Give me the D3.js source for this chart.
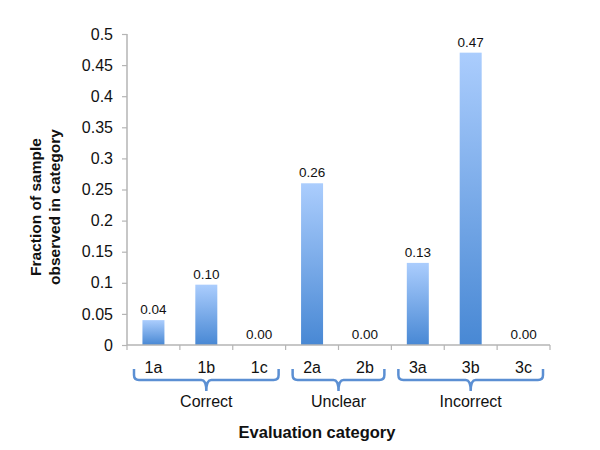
<!DOCTYPE html>
<html><head><meta charset="utf-8">
<script src="https://cdn.jsdelivr.net/npm/d3@7"></script>
<style>body{margin:0;background:#fff}svg{display:block;font-family:"Liberation Sans",Arial,sans-serif}</style>
</head><body>
<svg id="c" width="600" height="450"></svg>
<script>
const categories = ["1a","1b","1c","2a","2b","3a","3b","3c"];
const values = [0.04, 0.097, 0.0, 0.26, 0.0, 0.132, 0.47, 0.0];
const valueLabels = ["0.04","0.10","0.00","0.26","0.00","0.13","0.47","0.00"];
const groupNames = ["Correct","Unclear","Incorrect"];
const groupFirst = ["1a","2a","3a"];
const groupLast = ["1c","2b","3c"];
const yTicks = [0,0.05,0.1,0.15,0.2,0.25,0.3,0.35,0.4,0.45,0.5];
const yTickLabels = ["0","0.05","0.1","0.15","0.2","0.25","0.3","0.35","0.4","0.45","0.5"];

const svg = d3.select("#c");
const x = d3.scaleBand().domain(categories).range([127,550]).paddingInner(0.584).paddingOuter(0.292);
const y = d3.scaleLinear().domain([0,0.5]).range([345,34]);
const axisColor = "#b5b5b5";

const defs = svg.append("defs");
const g = defs.append("linearGradient").attr("id","bg").attr("x1",0).attr("y1",0).attr("x2",0).attr("y2",1);
g.append("stop").attr("offset","0%").attr("stop-color","#abcdfd");
g.append("stop").attr("offset","100%").attr("stop-color","#4888d4");

// bars
svg.selectAll("rect.bar").data(categories).join("rect").attr("class","bar")
  .attr("x",d=>x(d)).attr("width",x.bandwidth())
  .attr("y",(d,i)=>y(values[i])).attr("height",(d,i)=>y(0)-y(values[i]))
  .attr("fill","url(#bg)");

// value labels
svg.selectAll("text.val").data(categories).join("text").attr("class","val")
  .attr("x",d=>x(d)+x.bandwidth()/2).attr("y",(d,i)=>y(values[i])-6)
  .attr("text-anchor","middle").attr("font-size",13.5).attr("fill","#111")
  .text((d,i)=>valueLabels[i]);

// y axis
const yAxis = d3.axisLeft(y).tickValues(yTicks).tickFormat((d,i)=>yTickLabels[i]).tickSize(5).tickPadding(9);
const ya = svg.append("g").attr("transform","translate(127,0)").call(yAxis);
ya.select(".domain").attr("stroke",axisColor).attr("stroke-width",1.5).attr("d","M0,34V345");
ya.selectAll(".tick line").attr("stroke",axisColor).attr("stroke-width",1.2);
ya.selectAll(".tick text").attr("font-size",16).attr("fill","#111").attr("font-family","Liberation Sans, Arial, sans-serif");

// x axis
const bounds = categories.map(c=>x(c)-x.step()*x.paddingInner()/2).concat([550]);
const xa = svg.append("g");
xa.append("line").attr("x1",127).attr("x2",550).attr("y1",345).attr("y2",345).attr("stroke",axisColor).attr("stroke-width",1.5);
xa.selectAll("line.t").data(bounds).join("line").attr("class","t")
  .attr("x1",d=>d).attr("x2",d=>d).attr("y1",345).attr("y2",350).attr("stroke",axisColor).attr("stroke-width",1.2);
xa.selectAll("text.cat").data(categories).join("text").attr("class","cat")
  .attr("x",d=>x(d)+x.bandwidth()/2).attr("y",373).attr("text-anchor","middle")
  .attr("font-size",16).attr("fill","#111").text(d=>d);

// braces
const inset = 7;
groupNames.forEach((name,i)=>{
  const x0 = x(groupFirst[i]) - x.step()*x.paddingInner()/2 + inset;
  const x1 = x(groupLast[i]) + x.bandwidth() + x.step()*x.paddingInner()/2 - inset;
  const m = (x0+x1)/2, yt=369, yl=380, yb=391, r=5;
  const p = `M${x0},${yt} L${x0},${yl-r} Q${x0},${yl} ${x0+r},${yl} L${m-r},${yl} Q${m},${yl} ${m},${yb} Q${m},${yl} ${m+r},${yl} L${x1-r},${yl} Q${x1},${yl} ${x1},${yl-r} L${x1},${yt}`;
  svg.append("path").attr("d",p).attr("fill","none").attr("stroke","#5b8fd3").attr("stroke-width",2.5);
  svg.append("text").attr("x",m).attr("y",407).attr("text-anchor","middle").attr("font-size",16).attr("fill","#111").text(name);
});

// titles
svg.append("text").attr("x",317).attr("y",438).attr("text-anchor","middle").attr("font-size",16.5).attr("font-weight","bold").attr("fill","#111").text("Evaluation category");
const yt = svg.append("text").attr("transform","translate(41,207) rotate(-90)").attr("text-anchor","middle").attr("font-size",15.5).attr("font-weight","bold").attr("fill","#111");
yt.append("tspan").attr("x",0).attr("y",0).text("Fraction of sample");
yt.append("tspan").attr("x",0).attr("y",19).text("observed in category");
</script>
</body></html>
